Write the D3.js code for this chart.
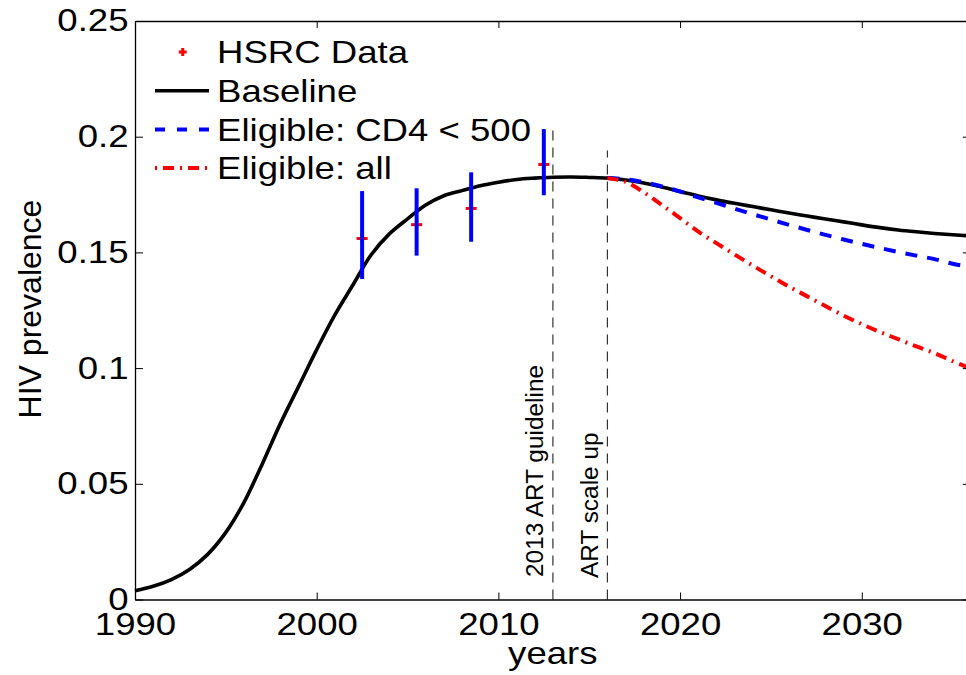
<!DOCTYPE html>
<html><head><meta charset="utf-8">
<script src="https://cdn.jsdelivr.net/npm/d3@7"></script>
<style>body{margin:0;background:#fff}svg{display:block}</style>
</head><body><svg id="c" width="966" height="675"></svg>
<script>
// ---- data ----
const baselineYears = [1990,1991,1992,1993,1994,1995,1996,1997,1998,1999,2000,2001,2002,2003,2004,2005,2006,2007,2008,2009,2010,2011,2012,2013,2014,2015,2016,2017,2018,2019,2020,2021,2022,2023,2024,2025,2026,2027,2028,2029,2030,2031,2032,2033,2034,2035,2036];
const baselineValues = [0.0038,0.0057,0.0086,0.0130,0.0195,0.0290,0.0420,0.0585,0.0760,0.0920,0.1080,0.1230,0.1360,0.1490,0.1580,0.1645,0.1705,0.1745,0.1767,0.1788,0.1803,0.1815,0.1821,0.1825,0.1826,0.1824,0.1821,0.1813,0.1800,0.1783,0.1763,0.1744,0.1727,0.1712,0.1698,0.1684,0.1670,0.1657,0.1644,0.1632,0.1619,0.1607,0.1597,0.1589,0.1582,0.1576,0.1571];
const scenarioYears = [2016,2017,2018,2019,2020,2021,2022,2023,2024,2025,2026,2027,2028,2029,2030,2031,2032,2033,2034,2035,2036];
const cd4Values = [0.1821,0.1816,0.1803,0.1785,0.1763,0.1738,0.1714,0.1689,0.1665,0.1642,0.1619,0.1597,0.1576,0.1556,0.1537,0.1519,0.1502,0.1486,0.1471,0.1451,0.1436];
const allValues = [0.1821,0.1805,0.1760,0.1705,0.1648,0.1590,0.1540,0.1491,0.1443,0.1397,0.1352,0.1310,0.1268,0.1227,0.1190,0.1156,0.1125,0.1094,0.1065,0.1030,0.0998];
const hsrcYears = [2002.5,2005.5,2008.5,2012.5];
const hsrcValues = [0.156,0.162,0.169,0.188];
const hsrcLower = [0.1385,0.1486,0.1546,0.1747];
const hsrcUpper = [0.1765,0.1777,0.1846,0.2033];
const xTicks = [1990,2000,2010,2020,2030];
const yTicks = [0,0.05,0.1,0.15,0.2,0.25];
const yTickLabels = ["0","0.05","0.1","0.15","0.2","0.25"];
const eventYears = [2013,2016];
const eventTops = [0.203,0.194];
const eventLabels = ["2013 ART guideline","ART scale up"];
const legendLabels = ["HSRC Data","Baseline","Eligible: CD4 < 500","Eligible: all"];

// ---- layout ----
const FONT = "'Liberation Sans', Arial, Helvetica, sans-serif";
const SX = 1.18;
const svg = d3.select("#c");
const x = d3.scaleLinear().domain([1990,2036]).range([135,970.8]);
const y = d3.scaleLinear().domain([0,0.25]).range([599.5,21]);

// event lines (behind)
const ev = svg.append("g");
eventYears.forEach((yr,i)=>{
  ev.append("line").attr("x1",x(yr)).attr("x2",x(yr))
    .attr("y1",y(0)).attr("y2",y(eventTops[i]))
    .attr("stroke","#333").attr("stroke-width",1.2).attr("stroke-dasharray","10,7");
});
const evLabelPos = [[543,577],[598,578]];
eventLabels.forEach((t,i)=>{
  svg.append("text").attr("transform",`translate(${evLabelPos[i][0]},${evLabelPos[i][1]}) rotate(-90)`)
    .attr("font-family",FONT).attr("font-size",24.4).attr("fill","#000").text(t);
});

// lines
const line = d3.line().x(d=>x(d[0])).y(d=>y(d[1])).curve(d3.curveCatmullRom.alpha(0.5));
svg.append("path").datum(baselineYears.map((t,i)=>[t,baselineValues[i]]))
  .attr("d",line).attr("fill","none").attr("stroke","#000").attr("stroke-width",3.6);
svg.append("path").datum(scenarioYears.map((t,i)=>[t,cd4Values[i]]))
  .attr("d",line).attr("fill","none").attr("stroke","#0000ff").attr("stroke-width",4).attr("stroke-dasharray","12,10");
svg.append("path").datum(scenarioYears.map((t,i)=>[t,allValues[i]]))
  .attr("d",line).attr("fill","none").attr("stroke","#ff0000").attr("stroke-width",4).attr("stroke-dasharray","11,6,2,6");

// HSRC markers then error bars
const plus = (g,cx,cy,h,w)=>{
  g.append("line").attr("x1",cx-h).attr("x2",cx+h).attr("y1",cy).attr("y2",cy).attr("stroke","#ff0000").attr("stroke-width",w);
  g.append("line").attr("x1",cx).attr("x2",cx).attr("y1",cy-h).attr("y2",cy+h).attr("stroke","#ff0000").attr("stroke-width",w);
};
const mk = svg.append("g");
hsrcYears.forEach((t,i)=>plus(mk,x(t),y(hsrcValues[i]),5.5,3));
hsrcYears.forEach((t,i)=>{
  svg.append("line").attr("x1",x(t)).attr("x2",x(t)).attr("y1",y(hsrcLower[i])).attr("y2",y(hsrcUpper[i]))
    .attr("stroke","#0000ff").attr("stroke-width",4);
});

// axes
const axStyle = g=>{g.selectAll("path").attr("stroke","#000").attr("stroke-width",1.3);
  g.selectAll("line").attr("stroke","#000").attr("stroke-width",1);};
const gb = svg.append("g").attr("transform",`translate(0,${y(0)})`)
  .call(d3.axisBottom(x).tickValues(xTicks).tickSize(-7).tickSizeOuter(0).tickPadding(13.8).tickFormat(d3.format("d")));
gb.call(axStyle);
gb.selectAll("text").attr("font-size",31).attr("font-family",FONT).attr("fill","#000").attr("transform",`scale(${SX},1)`);
const gt = svg.append("g").attr("transform",`translate(0,${y(0.25)})`)
  .call(d3.axisTop(x).tickValues(xTicks).tickSize(-7).tickSizeOuter(0).tickFormat(""));
gt.call(axStyle);
const gl = svg.append("g").attr("transform",`translate(${x(1990)},0)`)
  .call(d3.axisLeft(y).tickValues(yTicks).tickSize(-8).tickSizeOuter(0).tickPadding(5.5).tickFormat((d,i)=>yTickLabels[i]));
gl.call(axStyle);
gl.selectAll("text").attr("font-size",31).attr("font-family",FONT).attr("fill","#000").attr("transform",`scale(${SX},1)`);
const gr = svg.append("g").attr("transform",`translate(${x(2036)},0)`)
  .call(d3.axisRight(y).tickValues(yTicks).tickSize(-8).tickSizeOuter(0).tickFormat(""));
gr.call(axStyle);

// axis labels
svg.append("text").attr("transform",`translate(552.8,664) scale(${SX},1)`).attr("text-anchor","middle")
  .attr("font-family",FONT).attr("font-size",31).text("years");
svg.append("text").attr("transform","translate(41,309) rotate(-90)").attr("text-anchor","middle")
  .attr("font-family",FONT).attr("font-size",32).text("HIV prevalence");

// legend
const legY = [52,90.7,129.5,168];
const lg = svg.append("g");
plus(lg,182.7,legY[0],4,3);
lg.append("line").attr("x1",155).attr("x2",209).attr("y1",legY[1]).attr("y2",legY[1]).attr("stroke","#000").attr("stroke-width",3.6);
lg.append("line").attr("x1",155).attr("x2",209).attr("y1",legY[2]).attr("y2",legY[2]).attr("stroke","#0000ff").attr("stroke-width",4).attr("stroke-dasharray","10,12");
lg.append("line").attr("x1",155).attr("x2",209).attr("y1",legY[3]).attr("y2",legY[3]).attr("stroke","#ff0000").attr("stroke-width",4).attr("stroke-dasharray","2,6,11,6");
legendLabels.forEach((t,i)=>{
  lg.append("text").attr("transform",`translate(217,${legY[i]+11.3}) scale(${SX},1)`)
    .attr("font-family",FONT).attr("font-size",31).attr("fill","#000").text(t);
});
</script></body></html>
